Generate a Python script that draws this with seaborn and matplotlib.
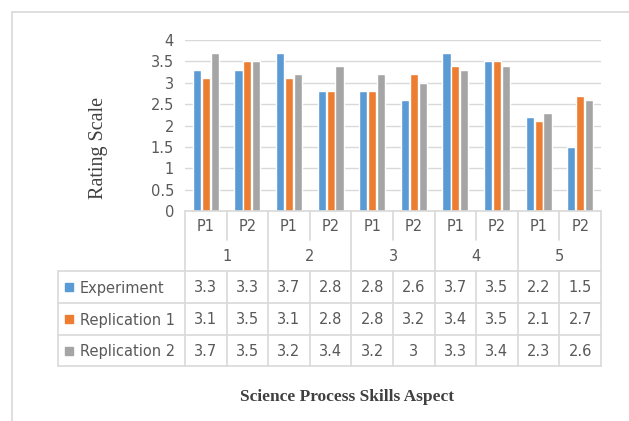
import matplotlib
matplotlib.use("Agg")
import matplotlib.pyplot as plt
import pandas as pd
import seaborn as sns
from matplotlib.lines import Line2D
from matplotlib.ticker import FuncFormatter

groups = ["1", "2", "3", "4", "5"]
parts = ["P1", "P2"]
series = ["Experiment", "Replication 1", "Replication 2"]
experiment = [3.3, 3.3, 3.7, 2.8, 2.8, 2.6, 3.7, 3.5, 2.2, 1.5]
replication1 = [3.1, 3.5, 3.1, 2.8, 2.8, 3.2, 3.4, 3.5, 2.1, 2.7]
replication2 = [3.7, 3.5, 3.2, 3.4, 3.2, 3, 3.3, 3.4, 2.3, 2.6]
colors = ["#5B9BD5", "#ED7D31", "#A5A5A5"]

cats = [g + "-" + p for g in groups for p in parts]
rows = []
for name, vals in zip(series, [experiment, replication1, replication2]):
    for c, v in zip(cats, vals):
        rows.append({"cat": c, "series": name, "value": v})
df = pd.DataFrame(rows)

W, H = 629, 421
# layout in pixels
px_left, px_right = 185, 601
py_top, py_zero = 40, 211
row_lines = [211, 240, 271, 303, 335, 366]
lab_left = 58

sns.set_style("white")
plt.rcParams["font.family"] = ["DejaVu Sans"]
txt = "#595959"
grid = "#D9D9D9"

fig = plt.figure(figsize=(W / 100, H / 100), dpi=100)
ax = fig.add_axes([px_left / W, 1 - py_zero / H, (px_right - px_left) / W, (py_zero - py_top) / H])
sns.barplot(data=df, x="cat", y="value", hue="series", order=cats, hue_order=series,
            palette=colors, width=0.64, gap=0.08, saturation=1, legend=False, ax=ax)
ax.set_xlim(-0.5, len(cats) - 0.5)
ax.set_ylim(0, 4)
ax.set_yticks([i * 0.5 for i in range(9)])
ax.yaxis.set_major_formatter(FuncFormatter(lambda v, p: f"{v:g}"))
ax.yaxis.grid(True, color=grid, linewidth=1)
ax.set_axisbelow(True)
ax.set_xticks([])
ax.set_xlabel("")
ax.set_ylabel("")
ax.tick_params(axis="y", length=0, labelsize=10.5, labelcolor=txt, pad=8)
for s in ax.spines.values():
    s.set_visible(False)

# overlay axes in pixel coordinates for the data table
tab = fig.add_axes([0, 0, 1, 1])
tab.set_xlim(0, W)
tab.set_ylim(H, 0)
tab.axis("off")
tab.patch.set_alpha(0)


def hline(y, x0, x1):
    tab.add_line(Line2D([x0, x1], [y, y], color=grid, lw=1.2))


def vline(x, y0, y1):
    tab.add_line(Line2D([x, x], [y0, y1], color=grid, lw=1.2))


# outer chart frame
hline(12, 12, W)
vline(12, 12, H)

colw = (px_right - px_left) / len(cats)
hline(row_lines[0], px_left, px_right)
for y in row_lines[2:]:
    hline(y, lab_left, px_right)
vline(px_left, row_lines[0], row_lines[-1])
vline(lab_left, row_lines[2], row_lines[-1])
for i in range(1, len(cats) + 1):
    x = px_left + i * colw
    if i % 2 == 0:
        vline(x, row_lines[0], row_lines[-1])
    else:
        vline(x, row_lines[0], row_lines[1])
        vline(x, row_lines[2], row_lines[-1])

for i, c in enumerate(cats):
    tab.text(px_left + (i + 0.5) * colw, (row_lines[0] + row_lines[1]) / 2 + 1, c.split("-")[1],
             ha="center", va="center", fontsize=10.5, color=txt)
for j, g in enumerate(groups):
    tab.text(px_left + (2 * j + 1) * colw, (row_lines[1] + row_lines[2]) / 2 + 1, g,
             ha="center", va="center", fontsize=10.5, color=txt)

for r, (name, vals, col) in enumerate(zip(series, [experiment, replication1, replication2], colors)):
    yc = (row_lines[2 + r] + row_lines[3 + r]) / 2
    tab.add_patch(plt.Rectangle((65, yc - 4), 8, 8, color=col))
    tab.text(80, yc + 1, name, ha="left", va="center", fontsize=10.5, color=txt)
    for i, v in enumerate(vals):
        tab.text(px_left + (i + 0.5) * colw, yc + 1, f"{v:g}", ha="center", va="center",
                 fontsize=10.5, color=txt)

tab.text(99, 148, "Rating Scale", rotation=90, ha="center", va="center",
         fontsize=14.5, color="#404040", family="Liberation Serif")
tab.text(347, 397, "Science Process Skills Aspect", ha="center", va="center",
         fontsize=12.5, fontweight="bold", color="#404040", family="Liberation Serif")

fig.savefig("out.png", dpi=100)
